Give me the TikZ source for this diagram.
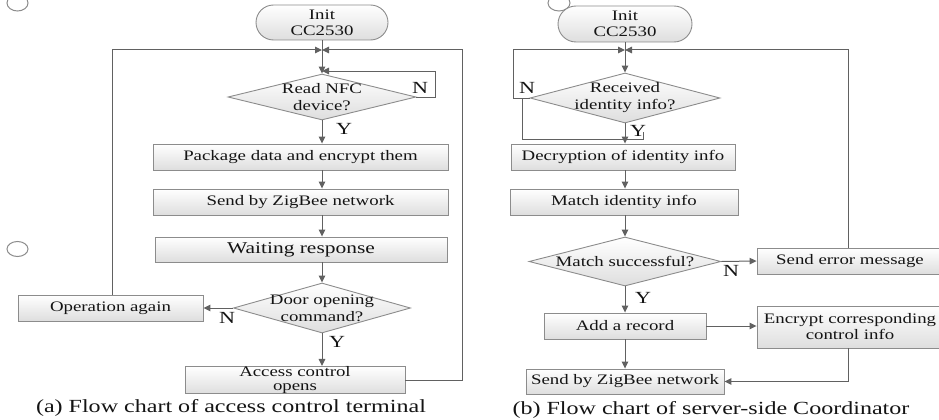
\documentclass[tikz,border=0pt]{standalone}
\usepackage{fontspec}
\setmainfont[FakeStretch=1.3]{Liberation Serif}
\usetikzlibrary{arrows.meta,shapes.geometric,shapes.misc}
\begin{document}
\begin{tikzpicture}[x=1pt,y=-1pt,
  ln/.style={draw=black!62, line width=1pt},
  arr/.style={ln, -{Triangle[length=7pt,width=6.5pt]}},
  boxfill/.style={draw=black!45, line width=0.9pt, top color=white, bottom color=black!13},
  box/.style={boxfill, rectangle, minimum height=26pt, inner sep=0pt, align=center,
    text=black!92, font=\fontsize{14.5}{14}\selectfont},
  term/.style={boxfill, rounded rectangle, inner sep=0pt, align=center,
    text=black!92, font=\fontsize{14.5}{16}\selectfont},
  dia/.style={boxfill, diamond, inner sep=0pt},
  dtext/.style={align=center, inner sep=0pt, text=black!92, font=\fontsize{14.5}{17}\selectfont},
  lbl/.style={inner sep=0pt, text=black!92, font=\fontsize{17}{18}\selectfont},
  captext/.style={inner sep=0pt, text=black!92, font=\fontsize{18.5}{20}\selectfont},
  stray/.style={draw=black!45, line width=1pt}
]
\useasboundingbox (0,0) rectangle (939,420);
\clip (0,0) rectangle (939,420);

% stray marks
\draw[stray] (17.5,3) ellipse [x radius=10.5, y radius=8];
\draw[stray] (17.5,249) ellipse [x radius=10.5, y radius=7.5];
\draw[stray] (559,3) ellipse [x radius=11, y radius=8];

% ---------- (a) ----------
\node[term, minimum width=132pt, minimum height=35pt] (i1) at (322,22.5) {Init\\CC2530};
\node[dia, minimum width=188pt, minimum height=46pt] (d1) at (322,97) {};
\node[dtext] at (d1) {Read NFC\\device?};
\node[box, minimum width=295pt] (p1) at (300.5,157) {Package data and encrypt them};
\node[box, minimum width=295pt] (s1) at (300.5,202) {Send by ZigBee network};
\node[box, minimum width=292pt, minimum height=25pt, font=\fontsize{16.5}{18}\selectfont] (w1) at (301,249.5) {Waiting response};
\node[dia, minimum width=177pt, minimum height=50pt] (d2) at (322,308) {};
\node[dtext] at (d2) {Door opening\\command?};
\node[box, minimum width=185pt] (o1) at (110.5,308) {Operation again};
\node[box, minimum width=220pt, minimum height=27pt] (a1) at (295,380) {Access control\\opens};

\coordinate (m1) at (322,50);
\coordinate (m1b) at (322,71);
\coordinate (r1) at (462,50);
\coordinate (n1) at (435,71);
\coordinate (l1) at (112,50);

\draw[arr] (i1.south) -- (d1.north);
\draw[arr] (o1.north -| l1) -- (l1) -- (m1);
\draw[arr] (a1.east) -| (r1) -- (m1);
\draw[arr] (d1.east) -| (n1) -- (m1b);
\draw[arr] (d1.south) -- (d1.south |- p1.north);
\draw[arr] (p1.south -| m1) -- (s1.north -| m1);
\draw[arr] (s1.south -| m1) -- (w1.north -| m1);
\draw[arr] (w1.south -| m1) -- (d2.north);
\draw[arr] (d2.west) -- (o1.east);
\draw[arr] (d2.south) -- (d2.south |- a1.north);

\node[lbl] at (420,88) {N};
\node[lbl] at (344,129) {Y};
\node[lbl] at (227,318) {N};
\node[lbl] at (337,342) {Y};

\node[captext] at (231,408) {(a) Flow chart of access control terminal};

% ---------- (b) ----------
\node[term, minimum width=134pt, minimum height=36pt] (i2) at (625,24) {Init\\CC2530};
\node[dia, minimum width=190pt, minimum height=50pt] (d3) at (625,98) {};
\node[dtext] at (d3) {Received\\identity info?};
\node[box, minimum width=224pt] (dc) at (623,157) {Decryption of identity info};
\node[box, minimum width=228pt] (mt) at (624,202) {Match identity info};
\node[dia, minimum width=192pt, minimum height=49pt] (d4) at (625,261.5) {};
\node[dtext] at (d4) {Match successful?};
\node[box, minimum width=186pt] (er) at (850,261) {Send error message};
\node[box, minimum width=162pt] (ad) at (625,326) {Add a record};
\node[box, minimum width=186pt, minimum height=42pt, font=\fontsize{14.5}{16}\selectfont] (en) at (850,327) {Encrypt corresponding\\control info};
\node[box, minimum width=198pt, minimum height=25pt] (sz) at (625,381.5) {Send by ZigBee network};

\coordinate (m2) at (625,50);
\coordinate (l2) at (513,50);
\coordinate (r2) at (848,50);
\coordinate (q1) at (522,98);
\coordinate (q2) at (522,139);
\coordinate (q3) at (643,139);
\coordinate (q4) at (643,132);

\draw[arr] (i2.south) -- (d3.north);
\draw[arr] (d3.west) -| (l2) -- (m2);
\draw[ln] (q1) -- (q2) -- (q3) -- (q4);
\draw[arr] (d3.south) -- (d3.south |- dc.north);
\draw[arr] (dc.south -| m2) -- (mt.north -| m2);
\draw[arr] (mt.south -| m2) -- (d4.north);
\draw[arr] (d4.east) -- (er.west);
\draw[arr] (er.north -| r2) -- (r2) -- (m2);
\draw[arr] (d4.south) -- (ad.north);
\draw[arr] (ad.east) -- (ad.east -| en.west);
\draw[arr] (ad.south) -- (sz.north);
\draw[arr] (en.south -| r2) |- (sz.east);

\node[lbl] at (527,88) {N};
\node[lbl] at (638,131) {Y};
\node[lbl] at (731,271) {N};
\node[lbl] at (643,298) {Y};

\node[captext] at (711,410) {(b) Flow chart of server-side Coordinator};
\end{tikzpicture}
\end{document}
